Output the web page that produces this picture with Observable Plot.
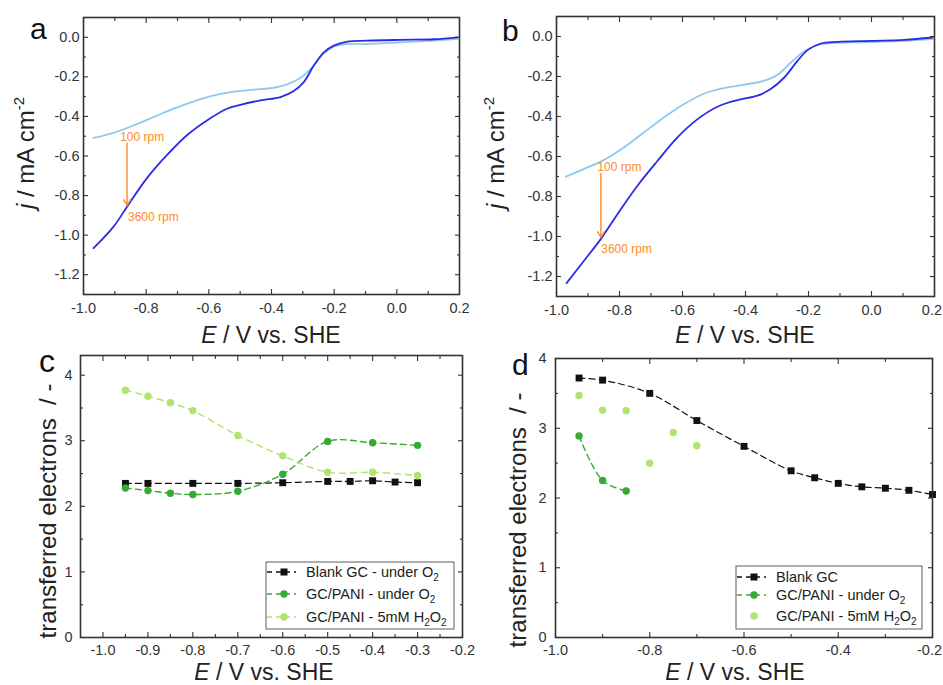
<!DOCTYPE html>
<html><head><meta charset="utf-8">
<script src="https://cdn.jsdelivr.net/npm/d3@7"></script>
<script src="https://cdn.jsdelivr.net/npm/@observablehq/plot@0.6"></script>
<style>
body{margin:0;background:#fff;}
#wrap{position:relative;width:943px;height:685px;font-family:Arial,"Liberation Sans",sans-serif;overflow:hidden;}
#wrap svg{position:absolute;}
</style></head><body><div id="wrap"></div>
<script>
// ---------- Panel a data (E / V, j / mA cm-2) ----------
const aE100  = [-0.968,-0.904,-0.840,-0.776,-0.712,-0.648,-0.584,-0.520,-0.456,-0.393,-0.350,-0.307,-0.265,-0.233,-0.201,-0.158,-0.094,0.012,0.119,0.194];
const aJ100  = [-0.509,-0.483,-0.445,-0.403,-0.361,-0.324,-0.294,-0.275,-0.265,-0.255,-0.238,-0.205,-0.143,-0.081,-0.047,-0.034,-0.034,-0.025,-0.017,-0.008];
const aE3600 = [-0.968,-0.904,-0.861,-0.798,-0.734,-0.670,-0.606,-0.542,-0.499,-0.435,-0.371,-0.329,-0.297,-0.265,-0.233,-0.201,-0.158,-0.094,0.012,0.119,0.194];
const aJ3600 = [-1.066,-0.957,-0.856,-0.713,-0.596,-0.495,-0.420,-0.361,-0.341,-0.319,-0.302,-0.272,-0.227,-0.143,-0.076,-0.042,-0.022,-0.017,-0.013,-0.010,0.000];
const aArrow = [{x1:-0.861, y1:-0.535, x2:-0.861, y2:-0.850}];
const aNotes = [{x:-0.883, y:-0.503, t:"100 rpm"}, {x:-0.858, y:-0.910, t:"3600 rpm"}];

// ---------- Panel b data ----------
const bE100  = [-0.970,-0.912,-0.849,-0.785,-0.722,-0.658,-0.595,-0.531,-0.468,-0.404,-0.341,-0.298,-0.256,-0.214,-0.171,-0.108,-0.002,0.104,0.194];
const bJ100  = [-0.701,-0.662,-0.617,-0.554,-0.479,-0.404,-0.338,-0.285,-0.258,-0.241,-0.221,-0.191,-0.130,-0.075,-0.043,-0.032,-0.028,-0.022,-0.013];
const bE3600 = [-0.968,-0.912,-0.859,-0.806,-0.743,-0.679,-0.616,-0.552,-0.489,-0.425,-0.362,-0.320,-0.277,-0.235,-0.203,-0.161,-0.108,-0.002,0.104,0.194];
const bJ3600 = [-1.233,-1.120,-1.012,-0.887,-0.746,-0.621,-0.504,-0.413,-0.351,-0.318,-0.296,-0.263,-0.205,-0.122,-0.068,-0.035,-0.027,-0.022,-0.017,-0.005];
const bArrow = [{x1:-0.859, y1:-0.685, x2:-0.859, y2:-1.005}];
const bNotes = [{x:-0.870, y:-0.654, t:"100 rpm"}, {x:-0.858, y:-1.062, t:"3600 rpm"}];

// ---------- Panel c data (transferred electrons) ----------
const cEBlank = [-0.95,-0.9,-0.8,-0.7,-0.6,-0.5,-0.45,-0.4,-0.35,-0.3];
const cNBlank = [2.35,2.35,2.35,2.35,2.36,2.38,2.38,2.39,2.37,2.36];
const cEPani  = [-0.95,-0.9,-0.85,-0.8,-0.7,-0.6,-0.5,-0.4,-0.3];
const cNPani  = [2.28,2.24,2.20,2.18,2.23,2.49,2.99,2.97,2.93];
const cEH2O2  = [-0.95,-0.9,-0.85,-0.8,-0.7,-0.6,-0.5,-0.4,-0.3];
const cNH2O2  = [3.77,3.68,3.58,3.46,3.08,2.77,2.52,2.52,2.47];

// ---------- Panel d data ----------
const dEBlank = [-0.95,-0.9,-0.8,-0.7,-0.6,-0.5,-0.45,-0.4,-0.35,-0.3,-0.25,-0.2];
const dNBlank = [3.72,3.69,3.50,3.11,2.74,2.39,2.29,2.21,2.16,2.14,2.11,2.05];
const dEPani  = [-0.95,-0.9,-0.85];
const dNPani  = [2.89,2.25,2.10];
const dEH2O2  = [-0.95,-0.9,-0.85,-0.8,-0.75,-0.7];
const dNH2O2  = [3.47,3.26,3.25,2.50,2.94,2.75];

// ---------- ticks ----------
const abXMajor = [-1.0,-0.8,-0.6,-0.4,-0.2,0.0,0.2];
const abXMinor = [-0.9,-0.7,-0.5,-0.3,-0.1,0.1];
const abYMajor = [0.0,-0.2,-0.4,-0.6,-0.8,-1.0,-1.2];
const abYMinor = [-0.1,-0.3,-0.5,-0.7,-0.9,-1.1];
const cXMajor = [-1.0,-0.9,-0.8,-0.7,-0.6,-0.5,-0.4,-0.3,-0.2];
const cXMinor = [-0.95,-0.85,-0.75,-0.65,-0.55,-0.45,-0.35,-0.25];
const dXMajor = [-1.0,-0.8,-0.6,-0.4,-0.2];
const dXMinor = [-0.9,-0.7,-0.5,-0.3];
const nYMajor = [0,1,2,3,4];
const nYMinor = [0.5,1.5,2.5,3.5];

// ---------- colours ----------
const C_DARK = "#2b2be6", C_LIGHT = "#8ec9ef", C_ORANGE = "#ff8a2a";
const C_BLACK = "#111", C_GREEN = "#35ab35", C_LGREEN = "#b0e36f";

const zip = (xs, ys) => xs.map((x, i) => ({x, y: ys[i]}));
const fmt1 = d => d.toFixed(1);
const fmt0 = d => d.toFixed(0);
const blank = () => "";

function boxAxes(xMaj, xMin, yMaj, yMin, fx, fy, xPad, yPad) {
  const c = {stroke: "#333", strokeWidth: 1.1, label: null};
  return [
    Plot.axisX(xMaj, {anchor: "bottom", tickSize: -5, tickPadding: xPad, tickFormat: fx, fill: "#333", ...c}),
    Plot.axisX(xMin, {anchor: "bottom", tickSize: -3, tickFormat: blank, ...c}),
    Plot.axisX(xMaj, {anchor: "top", tickSize: -5, tickFormat: blank, ...c}),
    Plot.axisX(xMin, {anchor: "top", tickSize: -3, tickFormat: blank, ...c}),
    Plot.axisY(yMaj, {anchor: "left", tickSize: -5, tickPadding: yPad, tickFormat: fy, fill: "#333", ...c}),
    Plot.axisY(yMin, {anchor: "left", tickSize: -3, tickFormat: blank, ...c}),
    Plot.axisY(yMaj, {anchor: "right", tickSize: -5, tickFormat: blank, ...c}),
    Plot.axisY(yMin, {anchor: "right", tickSize: -3, tickFormat: blank, ...c}),
    Plot.frame({stroke: "#333", strokeWidth: 1.6})
  ];
}

const wrap = document.getElementById("wrap");
function place(svg, left, top) {
  svg.style.left = left + "px"; svg.style.top = top + "px";
  wrap.appendChild(svg);
  return d3.select(svg);
}
const baseStyle = {fontFamily: "Arial, 'Liberation Sans', sans-serif", fontSize: "14.5px", color: "#333", background: "transparent", overflow: "visible"};

function rdePanel(E100, J100, E3600, J3600, arrow, notes, ml, mr, mt, mb, w) {
  return Plot.plot({
    width: w, height: 340, marginLeft: ml, marginRight: mr, marginTop: mt, marginBottom: mb,
    style: baseStyle,
    x: {domain: [-1.0, 0.2]}, y: {domain: [-1.3, 0.1]},
    marks: [
      Plot.line(zip(E100, J100), {x: "x", y: "y", stroke: C_LIGHT, strokeWidth: 1.8, curve: "catmull-rom"}),
      Plot.line(zip(E3600, J3600), {x: "x", y: "y", stroke: C_DARK, strokeWidth: 1.8, curve: "catmull-rom"}),
      Plot.arrow(arrow, {x1: "x1", y1: "y1", x2: "x2", y2: "y2", stroke: C_ORANGE, strokeWidth: 1.4, headLength: 7}),
      Plot.text(notes, {x: "x", y: "y", text: "t", fill: C_ORANGE, textAnchor: "start", fontSize: 12}),
      ...boxAxes(abXMajor, abXMinor, abYMajor, abYMinor, fmt1, fmt1, 13, 9)
    ]
  });
}

// Panel a
const sa = place(rdePanel(aE100, aJ100, aE3600, aJ3600, aArrow, aNotes, 83, 11, 17, 46, 470), 0, 0);
// Panel b
const sb = place(rdePanel(bE100, bJ100, bE3600, bJ3600, bArrow, bNotes, 86, 9, 16, 44, 473), 470, 0);

function nPanel(blank, pani, h2o2, xDom, yDom, xMaj, xMin, ml, mr, mt, mb, w, h2o2Line, xPad, yPad) {
  const marks = [
    Plot.line(blank, {x: "x", y: "y", stroke: C_BLACK, strokeWidth: 1.2, strokeDasharray: "6,4", curve: "catmull-rom"}),
    Plot.line(pani, {x: "x", y: "y", stroke: C_GREEN, strokeWidth: 1.4, strokeDasharray: "6,4", curve: "catmull-rom"}),
  ];
  if (h2o2Line) marks.push(Plot.line(h2o2, {x: "x", y: "y", stroke: C_LGREEN, strokeWidth: 1.4, strokeDasharray: "6,5", curve: "catmull-rom"}));
  marks.push(
    Plot.dot(blank, {x: "x", y: "y", symbol: "square", r: 3.9, fill: C_BLACK, stroke: "none"}),
    Plot.dot(pani, {x: "x", y: "y", r: 3.7, fill: C_GREEN, stroke: "none"}),
    Plot.dot(h2o2, {x: "x", y: "y", r: 3.7, fill: C_LGREEN, stroke: "none"}),
    ...boxAxes(xMaj, xMin, nYMajor, nYMinor, fmt1, fmt0, xPad, yPad)
  );
  return Plot.plot({
    width: w, height: 345, marginLeft: ml, marginRight: mr, marginTop: mt, marginBottom: mb,
    style: baseStyle, x: {domain: xDom}, y: {domain: yDom}, marks
  });
}

const sc = place(nPanel(zip(cEBlank, cNBlank), zip(cEPani, cNPani), zip(cEH2O2, cNH2O2), [-1.05, -0.2], [0, 4.3],
  cXMajor, cXMinor, 80, 8, 15, 48, 470, true, 12, 13), 0, 340);
const sd = place(nPanel(zip(dEBlank, dNBlank), zip(dEPani, dNPani), zip(dEH2O2, dNH2O2), [-1.0, -0.2], [0, 4],
  dXMajor, dXMinor, 85, 11, 18, 48, 473, false, 12, 14), 470, 340);

// keep right-most tick labels inside the page
[sb, sd].forEach(s => {
  s.selectAll("text").each(function() {
    if (!this.textContent) return;
    const r = this.getBoundingClientRect();
    const over = r.right - 942;
    if (over > 0) d3.select(this).attr("dx", -over);
  });
});

// ---------- text overlays ----------
function letter(s, t, x, y, size) {
  s.append("text").attr("x", x).attr("y", y).attr("text-anchor", "start").attr("font-size", size).attr("fill", "#111").text(t);
}
function xLabel(s, cx, y) {
  const t = s.append("text").attr("x", cx).attr("y", y).attr("text-anchor", "middle").attr("font-size", 23).attr("fill", "#222");
  t.append("tspan").attr("font-style", "italic").text("E");
  t.append("tspan").text(" / V vs. SHE");
}
function jLabel(s, x, cy) {
  const t = s.append("text").attr("transform", `translate(${x},${cy}) rotate(-90)`).attr("text-anchor", "middle").attr("font-size", 24).attr("fill", "#222");
  t.append("tspan").attr("font-style", "italic").text("j");
  t.append("tspan").text(" / mA cm");
  t.append("tspan").attr("font-size", 15).attr("dy", -10).text("-2");
}
function nLabel(s, x, cy) {
  s.append("text").attr("transform", `translate(${x},${cy}) rotate(-90)`).attr("text-anchor", "middle").attr("font-size", 24).attr("fill", "#222")
    .style("white-space", "pre").text("transferred electrons  / -");
}
function legend(s, box, rows) {
  s.append("rect").attr("x", box[0]).attr("y", box[1]).attr("width", box[2]).attr("height", box[3])
    .attr("fill", "white").attr("stroke", "#777").attr("stroke-width", 1.2);
  rows.forEach(r => {
    if (r.line) s.append("line").attr("x1", box[0] + 1).attr("x2", box[0] + 30).attr("y1", r.y).attr("y2", r.y)
      .attr("stroke", r.color).attr("stroke-width", 1.3).attr("stroke-dasharray", "5,4");
    if (r.square) s.append("rect").attr("x", box[0] + 14.5).attr("y", r.y - 3.5).attr("width", 7).attr("height", 7).attr("fill", r.color);
    else s.append("circle").attr("cx", box[0] + 18).attr("cy", r.y).attr("r", 3.7).attr("fill", r.color);
    const t = s.append("text").attr("x", box[0] + 40).attr("y", r.y + 5).attr("text-anchor", "start").attr("font-size", 14.5).attr("fill", "#222");
    r.parts.forEach(p => {
      if (typeof p === "string") t.append("tspan").text(p);
      else { t.append("tspan").attr("font-size", 10).attr("dy", 4).text(p.s); if (p.after) t.append("tspan").attr("dy", -4).text(p.after); }
    });
  });
}

letter(sa, "a", 30, 39, 30); jLabel(sa, 34, 153); xLabel(sa, 271, 343);
letter(sb, "b", 32, 41, 30); jLabel(sb, 34, 153); xLabel(sb, 275, 343);
letter(sc, "c", 39, 32, 32); nLabel(sc, 56, 171); xLabel(sc, 264, 340);
letter(sd, "d", 42, 35, 30); nLabel(sd, 56, 180); xLabel(sd, 265, 340);

legend(sc, [266, 222, 188, 67], [
  {y: 232, color: C_BLACK, square: true, line: true, parts: ["Blank GC - under O", {s: "2"}]},
  {y: 254, color: C_GREEN, line: true, parts: ["GC/PANI - under O", {s: "2"}]},
  {y: 277, color: C_LGREEN, line: true, parts: ["GC/PANI - 5mM H", {s: "2", after: "O"}, {s: "2"}]}
]);
legend(sd, [266, 226, 186, 63], [
  {y: 237, color: C_BLACK, square: true, line: true, parts: ["Blank GC"]},
  {y: 255, color: C_GREEN, line: true, parts: ["GC/PANI - under O", {s: "2"}]},
  {y: 276, color: C_LGREEN, line: false, parts: ["GC/PANI - 5mM H", {s: "2", after: "O"}, {s: "2"}]}
]);
</script></body></html>
